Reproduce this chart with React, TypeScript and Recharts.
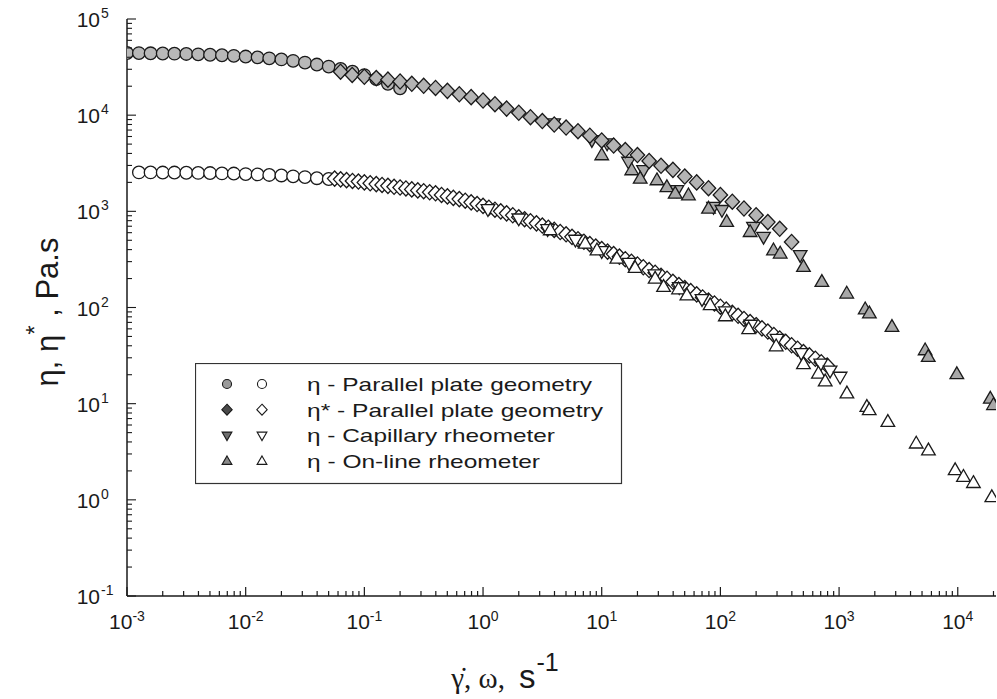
import React from 'react';
import { ScatterChart, Scatter, XAxis, YAxis, Legend } from 'recharts';

const FONT = '"Liberation Sans", Arial, Helvetica, sans-serif';
const SERIF = '"Liberation Serif", "Times New Roman", serif';
const INK = '#1a1a1a';

// ---------- axes ----------
const xMajorExp = [-3, -2, -1, 0, 1, 2, 3, 4];
const yMajorExp = [-1, 0, 1, 2, 3, 4, 5];
const minorMult = [1, 2, 3, 4, 5, 6, 7, 8, 9];
const X_DOMAIN: [number, number] = [0.001, 21000];
const Y_DOMAIN: [number, number] = [0.1, 100000];

// ---------- data: sample 1 (upper curve, filled symbols) ----------
const plateEtaFilledX = [0.001, 0.00126, 0.00158, 0.002, 0.00251, 0.00316, 0.00398, 0.00501, 0.00631, 0.00794, 0.01, 0.0126, 0.0158, 0.02, 0.0251, 0.0316, 0.0398, 0.0501, 0.0631, 0.0794, 0.1, 0.126, 0.158, 0.2];
const plateEtaFilledY = [44300, 44200, 44000, 43800, 43600, 43300, 42900, 42500, 42000, 41400, 40700, 39900, 39000, 38000, 36700, 35200, 33600, 32000, 30200, 28300, 26100, 23700, 21200, 19000];

const plateEtaStarFilledX = [0.063, 0.079, 0.1, 0.126, 0.158, 0.2, 0.251, 0.316, 0.398, 0.501, 0.631, 0.794, 1, 1.26, 1.58, 2, 2.51, 3.16, 3.98, 5.01, 6.31, 7.94, 10, 12.6, 15.8, 20, 25.1, 31.6, 39.8, 50.1, 63.1, 79.4, 100, 126, 158, 200, 251, 316, 398];
const plateEtaStarFilledY = [28300, 26200, 25100, 24300, 23400, 22400, 21200, 20200, 19200, 17900, 16500, 15400, 14200, 13000, 11700, 10600, 9530, 8690, 8000, 7430, 6810, 6120, 5460, 4830, 4330, 3850, 3340, 2980, 2700, 2300, 2000, 1740, 1480, 1260, 1070, 912, 773, 658, 480];

const capillaryFilledX = [3.93, 8.26, 11.1, 16.8, 22.5, 43.0, 87.5, 103, 190, 231, 470];
const capillaryFilledY = [8190, 5490, 5070, 3270, 2680, 1660, 1110, 1030, 689, 542, 350];

const onlineFilledX = [10.0, 17.9, 21.1, 29.2, 35.4, 41.6, 53.8, 79.4, 113, 178, 280, 319, 501, 716, 1160, 1660, 1800, 2790, 5310, 5640, 9820, 18800, 20000];
const onlineFilledY = [3840, 2680, 2190, 2110, 1790, 1530, 1470, 1070, 777, 611, 394, 365, 265, 185, 140, 96, 87, 63, 36, 30.7, 20.3, 11.3, 9.7];

// ---------- data: sample 2 (lower curve, open symbols) ----------
const plateEtaOpenX = [0.00126, 0.00158, 0.002, 0.00251, 0.00316, 0.00398, 0.00501, 0.00631, 0.00794, 0.01, 0.0126, 0.0158, 0.02, 0.0251, 0.0316, 0.0398, 0.0501];
const plateEtaOpenY = [2540, 2540, 2530, 2530, 2520, 2510, 2500, 2480, 2470, 2440, 2420, 2390, 2360, 2310, 2270, 2210, 2170];

const plateEtaStarOpenX = [0.0562, 0.0631, 0.0708, 0.0794, 0.0891, 0.1, 0.112, 0.126, 0.141, 0.158, 0.178, 0.2, 0.224, 0.251, 0.282, 0.316, 0.355, 0.398, 0.447, 0.501, 0.562, 0.631, 0.708, 0.794, 0.891, 1, 1.12, 1.26, 1.41, 1.58, 1.78, 2.0, 2.24, 2.51, 2.82, 3.16, 3.55, 3.98, 4.47, 5.01, 5.62, 6.31, 7.08, 7.94, 8.91, 10, 11.2, 12.6, 14.1, 15.8, 17.8, 20.0, 22.4, 25.1, 28.2, 31.6, 35.5, 39.8, 44.7, 50.1, 56.2, 63.1, 70.8, 79.4, 89.1, 100, 112, 126, 141, 158, 178, 200, 224, 251, 282, 316, 355, 398, 447, 501, 562, 631, 708, 794];
const plateEtaStarOpenY = [2190, 2150, 2110, 2070, 2040, 2000, 1960, 1920, 1880, 1840, 1800, 1770, 1730, 1690, 1650, 1620, 1580, 1540, 1480, 1430, 1380, 1340, 1290, 1240, 1190, 1140, 1090, 1040, 1000, 953, 910, 867, 828, 789, 750, 711, 676, 641, 610, 577, 543, 513, 483, 456, 430, 405, 381, 359, 338, 318, 299, 280, 262, 245, 230, 214, 199, 185, 171, 159, 148, 137, 127, 118, 110, 102, 95, 88, 82, 76, 70.5, 65.5, 60.7, 56.2, 51.8, 47.6, 44.0, 40.5, 37.3, 34.4, 31.8, 29.3, 27.0, 24.9];

const capillaryOpenX = [1.1, 2.0, 3.5, 6.0, 10, 17, 28, 45, 70, 110, 180, 300, 480, 700, 840, 1020];
const capillaryOpenY = [1050, 840, 650, 505, 385, 290, 220, 162, 122, 91, 66, 47, 33.5, 26, 22, 19];

const onlineOpenX = [3.68, 7.26, 9.12, 13.4, 19.1, 28.2, 33.2, 44.4, 52.2, 82.0, 110, 173, 295, 501, 670, 764, 1164, 1714, 1795, 2576, 4467, 5662, 9506, 11170, 13550, 19360];
const onlineOpenY = [637, 463, 394, 323, 259, 200, 164, 155, 134, 106, 81.3, 59.6, 39.6, 25.8, 20.6, 17.1, 12.8, 9.27, 8.57, 6.47, 3.86, 3.27, 2.04, 1.74, 1.50, 1.07];

// ---------- legend ----------
const legendLabels = ['η - Parallel plate geometry', 'η* - Parallel plate geometry', 'η - Capillary rheometer', 'η - On-line rheometer'];
const legendKinds = ['circle', 'diamond', 'down', 'up'];
const legendFilledFill = ['#9a9a9a', '#4a4a4a', '#6e6e6e', '#8a8a8a'];
const legendTextWidth = [285, 296, 248, 233];

const zip = (xs: number[], ys: number[]) => xs.map((x, i) => ({ x, y: ys[i] }));

const xTicks = xMajorExp.flatMap((e) => minorMult.map((m) => m * Math.pow(10, e))).filter((v) => v <= X_DOMAIN[1] * 1.0001);
const yTicks = yMajorExp.flatMap((e) => minorMult.map((m) => m * Math.pow(10, e))).filter((v) => v <= Y_DOMAIN[1] * 1.0001);

const isMajor = (v: number) => Math.abs(Math.log10(v) - Math.round(Math.log10(v))) < 1e-6;
const expOf = (v: number) => String(Math.round(Math.log10(v)));

// ---------- markers ----------
function Marker({ cx, cy, kind, fill, s = 1, sw = 1.3 }: any) {
  if (cx == null || cy == null) return null;
  const st = { fill, stroke: INK, strokeWidth: sw };
  if (kind === 'circle') return <circle cx={cx} cy={cy} r={6.3 * s} {...st} />;
  if (kind === 'diamond') {
    const a = 7.6 * s, b = 7.2 * s;
    return <polygon points={`${cx},${cy - a} ${cx + b},${cy} ${cx},${cy + a} ${cx - b},${cy}`} {...st} />;
  }
  if (kind === 'up') {
    const w = 6.8 * s;
    return <polygon points={`${cx},${cy - 7.2 * s} ${cx + w},${cy + 4.6 * s} ${cx - w},${cy + 4.6 * s}`} {...st} />;
  }
  const w = 6.8 * s;
  return <polygon points={`${cx - w},${cy - 4.6 * s} ${cx + w},${cy - 4.6 * s} ${cx},${cy + 7.2 * s}`} {...st} />;
}
const shapeOf = (kind: string, fill: string) => (p: any) => <Marker cx={p.cx} cy={p.cy} kind={kind} fill={fill} />;

// ---------- ticks ----------
const BottomTick = (p: any) => {
  const v = p.payload.value;
  const maj = isMajor(v);
  return (
    <g>
      <line x1={p.x} x2={p.x} y1={p.y} y2={p.y - (maj ? 9 : 5)} stroke={INK} strokeWidth={1.2} />
      {maj && (
        <text x={p.x} y={p.y + 33} textAnchor="middle" fontFamily={FONT} fontSize={21} fill={INK}>
          10<tspan dy={-8} fontSize={14}>{expOf(v)}</tspan>
        </text>
      )}
    </g>
  );
};
const TopTick = (p: any) => {
  const v = p.payload.value;
  const maj = isMajor(v);
  return <line x1={p.x} x2={p.x} y1={p.y} y2={p.y + (maj ? 8 : 4)} stroke={INK} strokeWidth={1} />;
};
const LeftTick = (p: any) => {
  const v = p.payload.value;
  const maj = isMajor(v);
  return (
    <g>
      <line x1={p.x} x2={p.x + (maj ? 9 : 5)} y1={p.y} y2={p.y} stroke={INK} strokeWidth={1.1} />
      {maj && (
        <g>
          <text x={p.x - 27} y={p.y + 8} textAnchor="end" fontFamily={FONT} fontSize={21} fill={INK}>10</text>
          <text x={p.x - 26} y={p.y - 1} textAnchor="start" fontFamily={FONT} fontSize={14} fill={INK}>{expOf(v)}</text>
        </g>
      )}
    </g>
  );
};
const RightTick = (p: any) => {
  const v = p.payload.value;
  const maj = isMajor(v);
  return <line x1={p.x} x2={p.x - (maj ? 9 : 5)} y1={p.y} y2={p.y} stroke={INK} strokeWidth={1} />;
};

// ---------- labels ----------
const XLabel = () => (
  <text x={505} y={688} textAnchor="middle" fill={INK}>
    <tspan fontFamily={SERIF} fontSize={29}>γ̇, ω,</tspan>
    <tspan fontFamily={FONT} fontSize={33} dx={14}>s</tspan>
    <tspan fontFamily={FONT} fontSize={25} dy={-17} dx={1}>-1</tspan>
  </text>
);
const YLabel = () => (
  <text transform="translate(58,312) rotate(-90)" textAnchor="middle" fill={INK} fontFamily={FONT} fontSize={31}>
    η, η<tspan dy={-15} fontSize={24}>*</tspan><tspan dy={15}> , Pa.s</tspan>
  </text>
);

const LegendBox = () => (
  <svg width={428} height={122} style={{ display: 'block' }}>
    <rect x={0.5} y={0.5} width={426} height={120} fill="#fff" stroke="#333" strokeWidth={1.2} />
    {legendLabels.map((lab, i) => {
      const cy = 21 + i * 25.7;
      return (
        <g key={lab}>
          <Marker cx={32} cy={cy} kind={legendKinds[i]} fill={legendFilledFill[i]} s={0.72} sw={1.1} />
          <Marker cx={67} cy={cy} kind={legendKinds[i]} fill="#fff" s={0.72} sw={1.1} />
          <text x={112} y={cy + 7} fontFamily={FONT} fontSize={19} fill={INK} textLength={legendTextWidth[i]} lengthAdjust="spacingAndGlyphs">
            {lab}
          </text>
        </g>
      );
    })}
  </svg>
);

export default function App() {
  return (
    <div style={{ position: 'absolute', left: 0, top: 0, width: 997, height: 699, background: '#fff' }}>
      <ScatterChart width={997} height={699} margin={{ top: 19, right: 1, bottom: 0, left: 0 }}>
        <XAxis
          xAxisId="b" dataKey="x" type="number" scale="log" domain={X_DOMAIN} allowDataOverflow
          ticks={xTicks} interval={0} tickSize={0} tickMargin={0} tick={BottomTick} tickLine={false}
          height={103} axisLine={{ stroke: INK, strokeWidth: 1.5 }} label={{ content: XLabel }}
        />
        <XAxis
          xAxisId="t" orientation="top" dataKey="x" type="number" scale="log" domain={X_DOMAIN} allowDataOverflow
          ticks={xTicks} interval={0} tickSize={0} tickMargin={0} tick={TopTick} tickLine={false}
          height={0} axisLine={{ stroke: '#555', strokeWidth: 1, strokeDasharray: '1 1' }}
        />
        <YAxis
          yAxisId="l" dataKey="y" type="number" scale="log" domain={Y_DOMAIN} allowDataOverflow
          ticks={yTicks} interval={0} tickSize={0} tickMargin={0} tick={LeftTick} tickLine={false}
          width={127} axisLine={{ stroke: INK, strokeWidth: 1.5 }} label={{ content: YLabel }}
        />
        <YAxis
          yAxisId="r" orientation="right" dataKey="y" type="number" scale="log" domain={Y_DOMAIN} allowDataOverflow
          ticks={yTicks} interval={0} tickSize={0} tickMargin={0} tick={RightTick} tickLine={false}
          width={0} axisLine={false}
        />
        <Legend
          layout="vertical" align="center" verticalAlign="middle"
          wrapperStyle={{ left: 195, top: 363, width: 428, height: 122 }}
          content={LegendBox}
        />
        <Scatter xAxisId="b" yAxisId="l" name="η plate (2)" data={zip(plateEtaOpenX, plateEtaOpenY)} shape={shapeOf('circle', '#fff')} isAnimationActive={false} />
        <Scatter xAxisId="b" yAxisId="l" name="η* plate (2)" data={zip(plateEtaStarOpenX, plateEtaStarOpenY)} shape={shapeOf('diamond', '#fff')} isAnimationActive={false} />
        <Scatter xAxisId="b" yAxisId="l" name="η capillary (2)" data={zip(capillaryOpenX, capillaryOpenY)} shape={shapeOf('down', '#fff')} isAnimationActive={false} />
        <Scatter xAxisId="b" yAxisId="l" name="η on-line (2)" data={zip(onlineOpenX, onlineOpenY)} shape={shapeOf('up', '#fff')} isAnimationActive={false} />
        <Scatter xAxisId="b" yAxisId="l" name="η plate (1)" data={zip(plateEtaFilledX, plateEtaFilledY)} shape={shapeOf('circle', '#b8b8b8')} isAnimationActive={false} />
        <Scatter xAxisId="b" yAxisId="l" name="η capillary (1)" data={zip(capillaryFilledX, capillaryFilledY)} shape={shapeOf('down', '#ababab')} isAnimationActive={false} />
        <Scatter xAxisId="b" yAxisId="l" name="η* plate (1)" data={zip(plateEtaStarFilledX, plateEtaStarFilledY)} shape={shapeOf('diamond', '#b4b4b4')} isAnimationActive={false} />
        <Scatter xAxisId="b" yAxisId="l" name="η on-line (1)" data={zip(onlineFilledX, onlineFilledY)} shape={shapeOf('up', '#a8a8a8')} isAnimationActive={false} />
      </ScatterChart>
    </div>
  );
}
